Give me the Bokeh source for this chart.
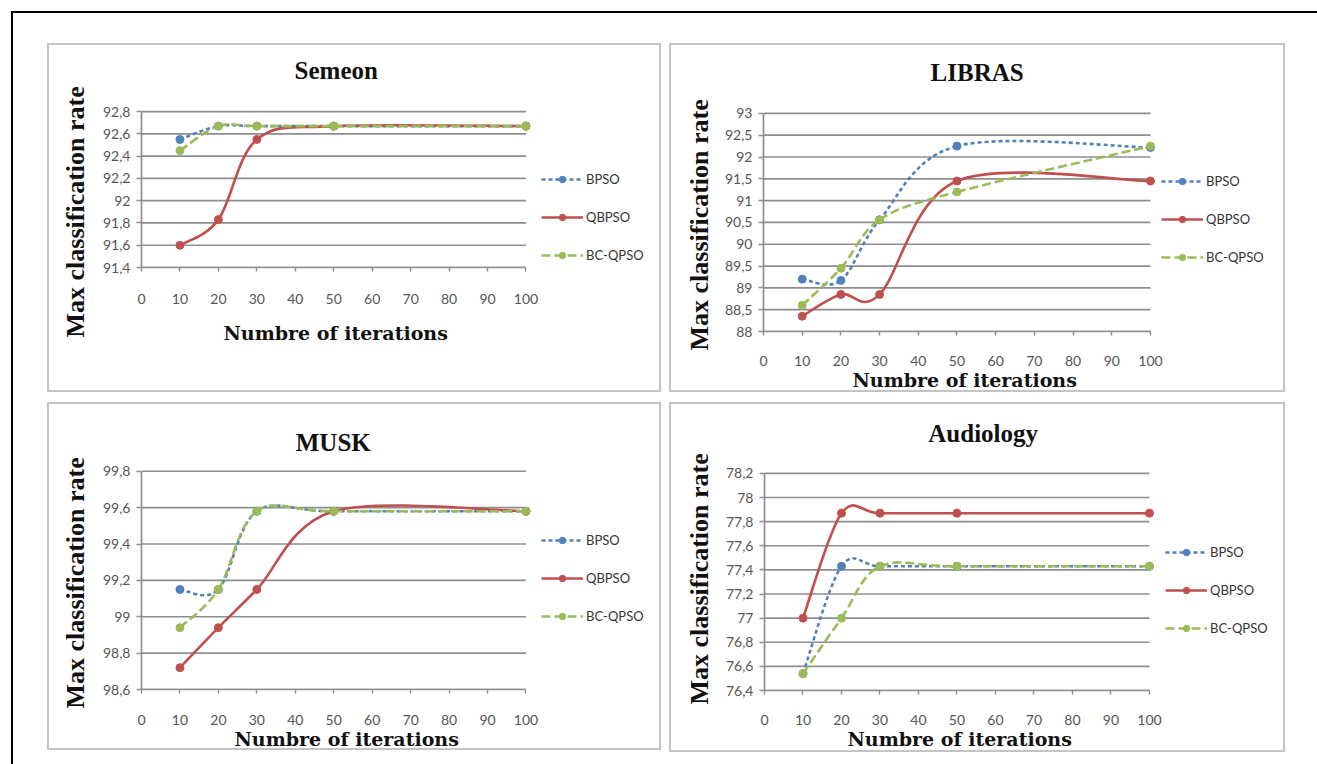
from bokeh.plotting import figure
from bokeh.models import Range1d, FixedTicker, Legend, LegendItem, Div, Label, Title
from bokeh.embed import file_html
from bokeh.resources import INLINE

# ---------------- data ----------------
iterations = [10, 20, 30, 50, 100]
x_ticks = [0, 10, 20, 30, 40, 50, 60, 70, 80, 90, 100]
series_names = ["BPSO", "QBPSO", "BC-QPSO"]

semeon_bpso = [92.55, 92.67, 92.67, 92.67, 92.67]
semeon_qbpso = [91.60, 91.83, 92.55, 92.67, 92.67]
semeon_bcqpso = [92.45, 92.67, 92.67, 92.67, 92.67]
semeon_yticks = [91.4, 91.6, 91.8, 92.0, 92.2, 92.4, 92.6, 92.8]

libras_bpso = [89.20, 89.17, 90.56, 92.25, 92.22]
libras_qbpso = [88.35, 88.85, 88.85, 91.45, 91.45]
libras_bcqpso = [88.60, 89.45, 90.56, 91.20, 92.25]
libras_yticks = [88.0, 88.5, 89.0, 89.5, 90.0, 90.5, 91.0, 91.5, 92.0, 92.5, 93.0]

musk_bpso = [99.15, 99.15, 99.58, 99.58, 99.58]
musk_qbpso = [98.72, 98.94, 99.15, 99.58, 99.58]
musk_bcqpso = [98.94, 99.15, 99.58, 99.58, 99.58]
musk_yticks = [98.6, 98.8, 99.0, 99.2, 99.4, 99.6, 99.8]

audio_bpso = [76.54, 77.43, 77.43, 77.43, 77.43]
audio_qbpso = [77.00, 77.87, 77.87, 77.87, 77.87]
audio_bcqpso = [76.54, 77.00, 77.43, 77.43, 77.43]
audio_yticks = [76.4, 76.6, 76.8, 77.0, 77.2, 77.4, 77.6, 77.8, 78.0, 78.2]

x_label = "Numbre of iterations"
y_label = "Max classification rate"

# ---------------- styles ----------------
COLORS = ["#4F81BD", "#C0504D", "#9BBB59"]
DASHES = ["4 3", "solid", "9 4"]
GRID = "#8E8E8E"
TICK_FONT = "Lato"


def fmt(v):
    return ("%g" % v).replace(".", ",")


def smooth_segments(xs, ys):
    """Bezier control points (Excel-like smoothed line) computed from the data."""
    n = len(xs)
    out = dict(x0=[], y0=[], x1=[], y1=[], cx0=[], cy0=[], cx1=[], cy1=[])
    for i in range(n - 1):
        i0 = i - 1 if i > 0 else i
        i3 = i + 2 if i + 2 < n else i + 1
        out["x0"].append(xs[i]); out["y0"].append(ys[i])
        out["x1"].append(xs[i + 1]); out["y1"].append(ys[i + 1])
        out["cx0"].append(xs[i] + (xs[i + 1] - xs[i0]) / 6.0)
        out["cy0"].append(ys[i] + (ys[i + 1] - ys[i0]) / 6.0)
        out["cx1"].append(xs[i + 1] - (xs[i3] - xs[i]) / 6.0)
        out["cy1"].append(ys[i + 1] - (ys[i3] - ys[i]) / 6.0)
    return out


def make_panel(title, series, yticks, box, plot_px, frame_top, frame_right,
               title_c, legend_xy, tick_standoff, xlab, ylab):
    bx, by, bw, bh = box                 # outer panel box (page px)
    x0p, x100p, ymaxp, yminp = plot_px   # page px of x=0, x=100, top tick, bottom tick
    cx, cy, cw, ch = bx + 2, by + 2, bw - 4, bh - 4
    ymin, ymax = yticks[0], yticks[-1]
    ppx = (x100p - x0p) / 100.0
    ppy = (yminp - ymaxp) / (ymax - ymin)
    x_end = (frame_right - x0p) / ppx
    y_end = ymax + (ymaxp - frame_top) / ppy

    p = figure(width=bw, height=bh, output_backend="svg", toolbar_location=None,
               title=None,
               x_range=Range1d(0, x_end), y_range=Range1d(ymin, y_end),
               min_border_left=x0p - cx, min_border_right=(cx + cw) - frame_right,
               min_border_top=frame_top - cy, min_border_bottom=(cy + ch) - yminp,
               background_fill_color="white", border_fill_color="white")
    p.styles = {"position": "absolute", "left": "%dpx" % bx, "top": "%dpx" % by,
                "border": "2px solid #C4C4C4"}
    p.outline_line_color = None
    p.xgrid.visible = False
    p.ygrid.visible = False

    # horizontal gridlines at the y ticks, only over the plotting range 0..100
    p.segment(x0=[0] * len(yticks), x1=[100] * len(yticks), y0=yticks, y1=yticks,
              line_color=GRID, line_width=1.7)

    xa = p.xaxis[0]
    xa.bounds = (0, 100)
    xa.ticker = FixedTicker(ticks=x_ticks)
    xa.axis_line_color = GRID
    xa.axis_line_width = 1.7
    xa.major_tick_line_color = GRID
    xa.major_tick_line_width = 1.4
    xa.major_tick_in = 0
    xa.major_tick_out = 4
    xa.minor_tick_line_color = None
    xa.major_label_text_font = TICK_FONT
    xa.major_label_text_font_size = "14px"
    xa.major_label_text_color = "#555555"
    xa.major_label_standoff = tick_standoff

    ya = p.yaxis[0]
    ya.bounds = (ymin, ymax)
    ya.ticker = FixedTicker(ticks=yticks)
    ya.major_label_overrides = {t: fmt(t) for t in yticks}
    ya.axis_line_color = GRID
    ya.axis_line_width = 1.7
    ya.major_tick_line_color = GRID
    ya.major_tick_line_width = 1.4
    ya.major_tick_in = 0
    ya.major_tick_out = 5
    ya.minor_tick_line_color = None
    ya.major_label_text_font = TICK_FONT
    ya.major_label_text_font_size = "14px"
    ya.major_label_text_color = "#555555"
    ya.major_label_standoff = 6

    # axis titles as side titles so that they can be centred on the 0..100 area
    p.add_layout(Title(text=x_label, align="left", vertical_align="top",
                       offset=xlab[0], standoff=xlab[1],
                       text_font="DejaVu Serif", text_font_style="bold",
                       text_font_size="19px", text_color="#111111"), "below")
    p.add_layout(Title(text=y_label, align="left", vertical_align="bottom",
                       offset=ylab[0], standoff=ylab[1],
                       text_font="Liberation Serif", text_font_style="bold",
                       text_font_size="26px", text_color="#111111"), "left")

    # chart title, placed above the plotting area
    tx = 50 + (title_c[0] - (x0p + x100p) / 2.0) / ppx
    ty = ymax + (ymaxp - title_c[1]) / ppy
    p.add_layout(Label(x=tx, y=ty, text=title, text_align="center",
                       text_baseline="middle", text_font="Liberation Serif",
                       text_font_style="bold", text_font_size="25px",
                       text_color="#111111"))

    items = []
    for name, ys, c, d in zip(series_names, series, COLORS, DASHES):
        seg = smooth_segments(iterations, ys)
        rl = p.bezier(source=seg, x0="x0", y0="y0", x1="x1", y1="y1",
                      cx0="cx0", cy0="cy0", cx1="cx1", cy1="cy1",
                      line_color=c, line_width=2.6, line_dash=d)
        rm = p.scatter(iterations, ys, marker="circle", size=8,
                       fill_color=c, line_color=c)
        items.append(LegendItem(label=name, renderers=[rl, rm]))

    legend = Legend(items=items, location=legend_xy, orientation="vertical",
                    glyph_width=42, glyph_height=16, spacing=22, padding=0, margin=0,
                    label_standoff=3, label_text_font=TICK_FONT,
                    label_text_font_size="13px", label_text_color="#333333",
                    background_fill_alpha=0, border_line_color=None)
    p.add_layout(legend, "center")
    return p


p1 = make_panel("Semeon", [semeon_bpso, semeon_qbpso, semeon_bcqpso], semeon_yticks,
                (47, 43, 614, 349), (139, 522, 110, 263), 50, 655,
                (333, 70), (400, 4), 22, (82, 30), (-70, 19))
p2 = make_panel("LIBRAS", [libras_bpso, libras_qbpso, libras_bcqpso], libras_yticks,
                (669, 43, 616, 349), (763, 1147, 112, 327), 50, 1279,
                (975, 72), (398, 66), 20, (89, 0), (-19, 15))
p3 = make_panel("MUSK", [musk_bpso, musk_qbpso, musk_bcqpso], musk_yticks,
                (47, 402, 614, 348), (139, 522, 470, 685), 420, 655,
                (330, 442), (400, 65), 21, (93, 0), (-19, 19))
p4 = make_panel("Audiology", [audio_bpso, audio_qbpso, audio_bcqpso], audio_yticks,
                (669, 402, 616, 350), (764, 1146, 472, 686), 412, 1279,
                (981, 433), (401, 54), 20, (83, 0), (-14, 17))

frame_div = Div(text="", width=1308, height=758)
frame_div.styles = {"position": "absolute", "left": "6px", "top": "6px",
                    "box-sizing": "border-box",
                    "border-left": "2px solid black", "border-top": "2px solid black",
                    "border-right": "2px solid black"}

open("out.html", "w").write(file_html([frame_div, p1, p2, p3, p4], INLINE))
